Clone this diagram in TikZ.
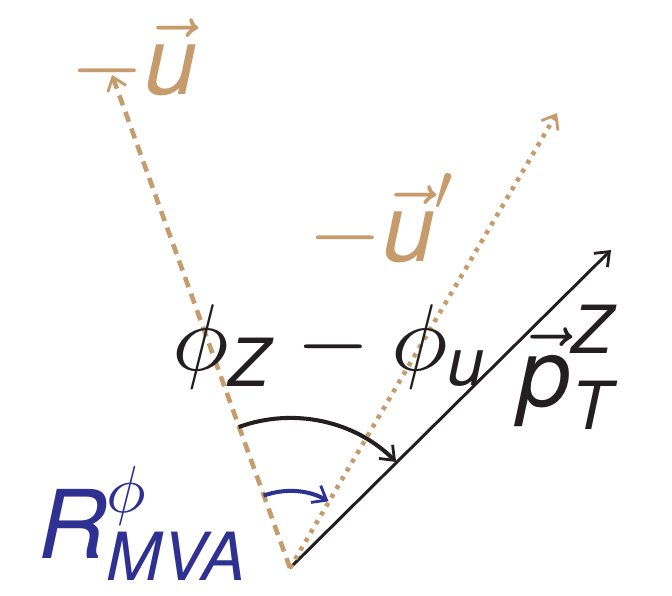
\documentclass[tikz,border=0pt]{standalone}
\usepackage{amsmath}
\usepackage{fontspec}
\setsansfont{TeX Gyre Heros}
\usepackage{xcolor}
\usetikzlibrary{arrows.meta, calc}
% scalable math fonts for the large labels
\DeclareFontShape{OML}{cmm}{m}{it}{<-> cmmi10}{}
\DeclareFontShape{OMS}{cmsy}{m}{n}{<-> cmsy10}{}
\DeclareFontShape{OT1}{cmr}{m}{n}{<-> cmr10}{}
\definecolor{vecblack}{HTML}{231F20}
\definecolor{recoiltan}{HTML}{C69C6D}
\definecolor{mvablue}{HTML}{2E3192}
\newcommand{\hv}[1]{\textsf{\textit{#1}}}

\begin{document}
\begin{tikzpicture}[x=0.02cm, y=0.02cm,
    bigfont/.style={font=\fontsize{54}{60}\selectfont, inner sep=0pt},
    barb/.style={-{Straight Barb[length=7pt, width=11pt, line width=1.6pt]}}]
  % canvas in pixel units
  \useasboundingbox (0,0) rectangle (672,595);

  % --- rays from the vertex ---
  \coordinate (o) at (290,27);
  \coordinate (ptip) at (611,345);
  \coordinate (utip) at (112,520);
  \coordinate (uptip) at (557,482);

  \draw[vecblack, line width=1.7pt, barb] (o) -- (ptip);
  \draw[recoiltan, line width=2.6pt, dash pattern=on 6pt off 4pt, barb] (o) -- (utip);
  \draw[recoiltan, line width=2.6pt, dash pattern=on 2.4pt off 3.4pt, barb] (o) -- (uptip);

  % --- angle arcs ---
  \draw[vecblack, line width=2.3pt, barb] ($(o)+(110:150)$) arc[start angle=110, end angle=45, radius=150];
  \draw[mvablue, line width=2.3pt, barb] ($(o)+(110:77)$) arc[start angle=110, end angle=60, radius=77];

  % --- labels ---
  \node[bigfont, recoiltan, anchor=base west] (lu) at (70,500) {$-\vec{\hv{u}}$};
  \node[bigfont, recoiltan, anchor=base west] (luprime) at (308,333) {$-\vec{\hv{u}}'$};
  \node[bigfont, vecblack, anchor=base west] (ldphi) at (172,224) {$\phi_{\hv{Z}} - \phi_{\hv{u}}$};
  \node[bigfont, vecblack, anchor=base west] (lpt) at (518,189) {$\vec{\hv{p}}^{\hv{Z}}_{\hv{T}}$};
  \node[bigfont, mvablue, anchor=base west] (lmva) at (38,37) {$\hv{R}^{\phi}_{\hv{MVA}}$};
\end{tikzpicture}
\end{document}
